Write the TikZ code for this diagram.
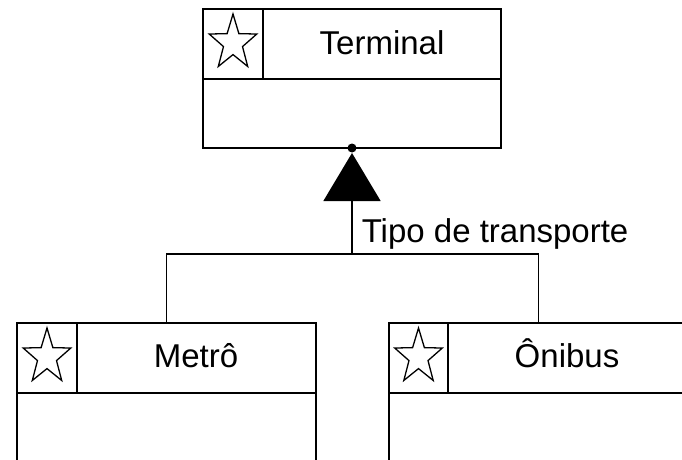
\documentclass[tikz,border=0pt]{standalone}
\usepackage{fontspec}
\setmainfont{Liberation Sans}
\usetikzlibrary{arrows.meta,calc}
\begin{document}
\begin{tikzpicture}[x=1pt,y=-1pt,line width=1.6pt,
  box/.style={draw=black,rectangle,anchor=north west,inner sep=0pt,outer sep=0pt},
  cname/.style={font=\fontsize{33}{40}\selectfont,anchor=base,inner sep=0pt},
  lbl/.style={font=\fontsize{33}{40}\selectfont,anchor=base west,inner sep=0pt},
  starline/.style={line width=1.3pt,line join=miter},
  gen/.style={-{Triangle[width=57pt,length=48pt]},shorten >=5pt}]
\clip (0,0) rectangle (682,460);
% Terminal
\node[box,minimum width=298pt,minimum height=139pt] (term) at (203,9) {};
\node[box,minimum width=298pt,minimum height=70pt] (termhead) at (203,9) {};
\node[box,minimum width=60pt,minimum height=70pt] (termstar) at (203,9) {};
\node[cname] (termname) at (382,55) {Terminal};
% Metro
\node[box,minimum width=299pt,minimum height=170pt] (metro) at (17,323) {};
\node[box,minimum width=299pt,minimum height=70pt] (metrohead) at (17,323) {};
\node[box,minimum width=60pt,minimum height=70pt] (metrostar) at (17,323) {};
\node[cname] (metroname) at (196,367) {Metrô};
% Onibus
\node[box,minimum width=299pt,minimum height=170pt] (onib) at (389,323) {};
\node[box,minimum width=299pt,minimum height=70pt] (onibhead) at (389,323) {};
\node[box,minimum width=59pt,minimum height=70pt] (onibstar) at (389,323) {};
\node[cname] (onibname) at (567,367) {Ônibus};
% stars
\foreach \c in {termstar,metrostar,onibstar}{
  \draw[starline,shift={($(\c.center)+(0,-1)$)}]
    (270:25 and 29) -- (306:10 and 11.6) -- (342:25 and 29) -- (18:10 and 11.6)
    -- (54:25 and 29) -- (90:10 and 11.6) -- (126:25 and 29) -- (162:10 and 11.6)
    -- (198:25 and 29) -- (234:10 and 11.6) -- cycle;
}
% connectors
\coordinate (junc) at (term.south |- 0,254);
\draw (metro.north) |- (junc) -| (onib.north);
\draw[gen] (junc) -- (term.south);
\fill (term.south) circle (4.5pt);
\node[lbl] (tipo) at (361,242) {Tipo de transporte};
\end{tikzpicture}
\end{document}
